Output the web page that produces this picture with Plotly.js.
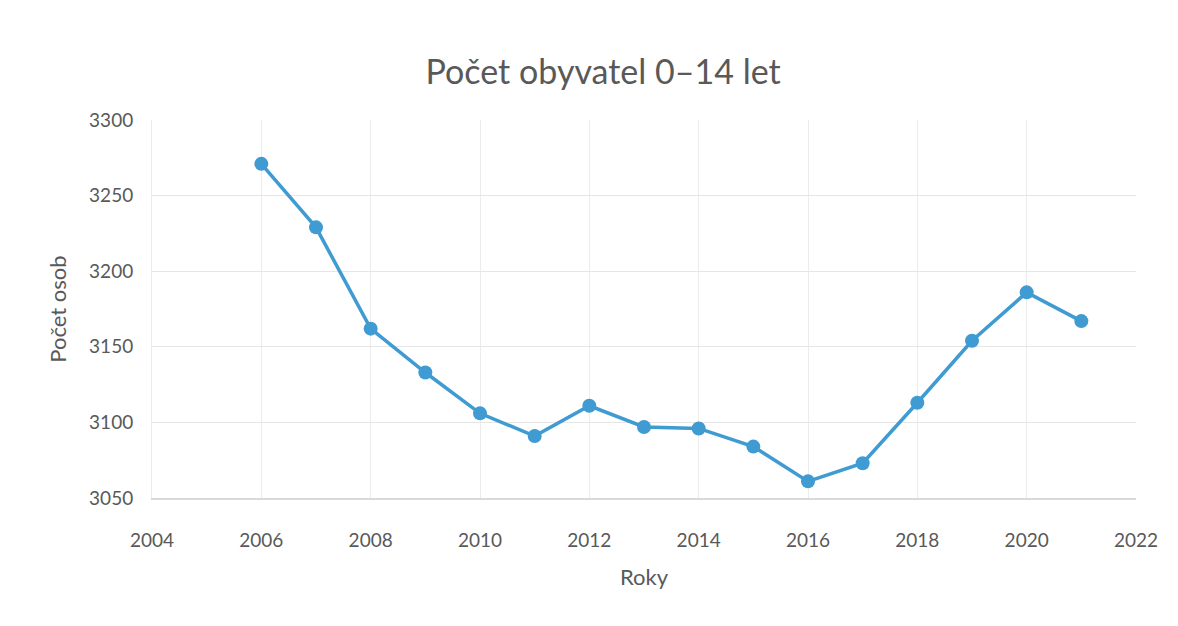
<!DOCTYPE html>
<html>
<head>
<meta charset="utf-8">
<script src="https://cdn.plot.ly/plotly-3.0.1.min.js"></script>
<style>html,body{margin:0;padding:0;background:#fff;}#chart{width:1178px;height:626px;}</style>
</head>
<body>
<div id="chart"></div>
<script>
const years = [2006, 2007, 2008, 2009, 2010, 2011, 2012, 2013, 2014, 2015, 2016, 2017, 2018, 2019, 2020, 2021];
const population = [3271, 3229, 3162, 3133, 3106, 3091, 3111, 3097, 3096, 3084, 3061, 3073, 3113, 3154, 3186, 3167];
const xTicks = [2004, 2006, 2008, 2010, 2012, 2014, 2016, 2018, 2020, 2022];
const yTicks = [3050, 3100, 3150, 3200, 3250, 3300];

const gray = '#595959';
const font = 'Lato, "Open Sans", sans-serif';

Plotly.newPlot('chart', [{
  x: years,
  y: population,
  type: 'scatter',
  mode: 'lines+markers',
  line: {color: '#3f9bd1', width: 3.5},
  marker: {color: '#3f9bd1', size: 14},
  hoverinfo: 'x+y'
}], {
  width: 1178,
  height: 626,
  paper_bgcolor: '#ffffff',
  plot_bgcolor: '#ffffff',
  margin: {l: 152, r: 42, t: 120, b: 128},
  showlegend: false,
  title: {
    text: 'Počet obyvatel 0–14 let',
    font: {family: font, size: 34, color: gray},
    x: 0.512, xanchor: 'center',
    y: 0.885, yanchor: 'middle'
  },
  xaxis: {
    range: [2004, 2022],
    tickvals: xTicks,
    ticktext: xTicks.map(String),
    showgrid: true,
    gridcolor: '#ececec',
    gridwidth: 1,
    zeroline: false,
    showline: true,
    linecolor: '#d9d9d9',
    linewidth: 2,
    ticks: '',
    ticklabelstandoff: 24,
    tickfont: {family: font, size: 19, color: gray},
    title: {text: 'Roky', font: {family: font, size: 22, color: gray}, standoff: 20}
  },
  yaxis: {
    range: [3050, 3300],
    tickvals: yTicks,
    ticktext: yTicks.map(String),
    showgrid: true,
    gridcolor: '#e6e6e6',
    gridwidth: 1,
    zeroline: false,
    showline: true,
    linecolor: '#ececec',
    linewidth: 1,
    ticks: '',
    ticklabelstandoff: 14,
    tickfont: {family: font, size: 19, color: gray},
    title: {text: 'Počet osob', font: {family: font, size: 22, color: gray}, standoff: 16}
  }
}, {displayModeBar: false});
</script>
</body>
</html>
